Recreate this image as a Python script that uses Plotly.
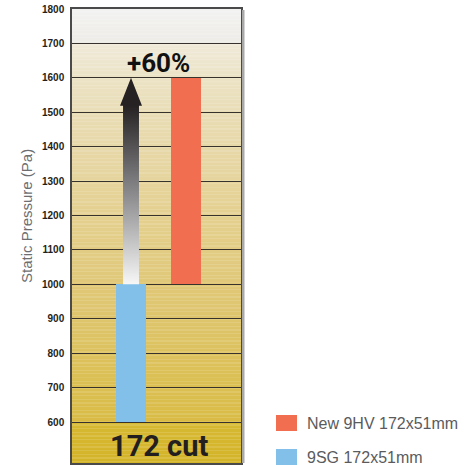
import plotly.graph_objects as go

# ---- data ----
categories = ["9SG 172x51mm", "New 9HV 172x51mm"]
pressure_top = [1000, 1600]
pressure_base = [600, 1000]
bar_colors = ["#82c0ea", "#f26e50"]
increase_label = "+60%"
size_label = "172 cut"
y_ticks = [600, 700, 800, 900, 1000, 1100, 1200, 1300, 1400, 1500, 1600, 1700, 1800]
y_title = "Static Pressure (Pa)"

# ---- layout constants ----
W, H = 473, 465
L, R, T, B = 72, 241, 9, 463          # plot area in pixels
Y_MIN, Y_MAX = 481, 1800
X_MIN, X_MAX = -1.073, 2.0
BAR_W = 0.545

def px_to_paper_x(px):
    return (px - L) / (R - L)

def px_to_paper_y(py):
    return 1 - (py - T) / (B - T)

def hex2rgb(h):
    h = h.lstrip("#")
    return tuple(int(h[i:i + 2], 16) for i in (0, 2, 4))

def lerp_color(stops, v):
    for (v0, c0), (v1, c1) in zip(stops, stops[1:]):
        if v0 <= v <= v1:
            t = (v - v0) / (v1 - v0) if v1 != v0 else 0
            a, b = hex2rgb(c0), hex2rgb(c1)
            return "rgb(%d,%d,%d)" % tuple(round(a[i] + (b[i] - a[i]) * t) for i in range(3))
    return stops[-1][1]

bg_stops = [
    (481, "#d3b328"), (600, "#d7b932"),
    (600.01, "#d9bb45"), (700, "#dbbf52"), (800, "#dcc25e"), (900, "#dec46c"),
    (1000, "#e0c878"), (1100, "#e2cc84"), (1200, "#e4d08f"), (1300, "#e6d49d"),
    (1400, "#e7d8a8"), (1500, "#e9ddb6"), (1600, "#ece3c6"), (1700, "#efe9d8"),
    (1700.01, "#eeece6"), (1800, "#f2f2f1"),
]

shapes = []
step = 4
v = Y_MIN
while v < Y_MAX:
    v1 = min(v + step, Y_MAX)
    shapes.append(dict(type="rect", xref="paper", yref="y", x0=0, x1=1, y0=v, y1=v1 + 0.8,
                       fillcolor=lerp_color(bg_stops, (v + v1) / 2), line=dict(width=0),
                       layer="below"))
    v = v1

# shadow right of the plot frame
shapes.append(dict(type="rect", xref="paper", yref="paper",
                   x0=px_to_paper_x(R + 1), x1=px_to_paper_x(R + 3.5),
                   y0=px_to_paper_y(B), y1=px_to_paper_y(T + 1),
                   fillcolor="#a9a9a9", line=dict(width=0), layer="above"))

fig = go.Figure()

# bars
x_pos = list(range(len(categories)))
for i, name in enumerate(categories):
    fig.add_trace(go.Bar(
        x=[x_pos[i]], y=[pressure_top[i] - pressure_base[i]], base=[pressure_base[i]],
        width=BAR_W, marker=dict(color=bar_colors[i], line=dict(width=0)),
        name=name, showlegend=False,
    ))

# gradient arrow from old value up to new value
shaft_hw = 0.145
head_hw = 0.2
head_len = 81
xc = x_pos[0]
y0, y1 = pressure_top[0], pressure_top[1]
arrow_x = [xc - shaft_hw, xc + shaft_hw, xc + shaft_hw, xc + head_hw, xc, xc - head_hw, xc - shaft_hw, xc - shaft_hw]
arrow_y = [y0, y0, y1 - head_len, y1 - head_len, y1, y1 - head_len, y1 - head_len, y0]
fig.add_trace(go.Scatter(
    x=arrow_x, y=arrow_y, mode="lines", fill="toself", line=dict(width=0),
    fillgradient=dict(type="vertical", start=y0, stop=y1 - head_len,
                      colorscale=[[0, "#f7f7f7"], [0.5, "#8c8c8e"], [1, "#262223"]]),
    hoverinfo="skip", showlegend=False,
))

COND = "Roboto, Liberation Sans Narrow, sans-serif"
annotations = [
    dict(x=0.5, y=1643, xref="x", yref="y", text=increase_label, showarrow=False,
         font=dict(family=COND, size=26, color="#111111", weight="bold")),
    dict(x=0.5, y=530, xref="x", yref="y", text=size_label, showarrow=False,
         font=dict(family=COND, size=29, color="#231f20", weight="bold")),
    dict(x=px_to_paper_x(26), y=px_to_paper_y(216), xref="paper", yref="paper", text=y_title,
         textangle=-90, showarrow=False, xanchor="center", yanchor="middle",
         font=dict(family="Liberation Sans, Arial, sans-serif", size=15, color="#6d6e71")),
]

# manual legend
legend_items = [(categories[1], bar_colors[1], 423), (categories[0], bar_colors[0], 457)]
for name, color, cy in legend_items:
    shapes.append(dict(type="rect", xref="paper", yref="paper",
                       x0=px_to_paper_x(276), x1=px_to_paper_x(297),
                       y0=px_to_paper_y(cy + 8), y1=px_to_paper_y(cy - 8),
                       fillcolor=color, line=dict(width=0), layer="above"))
    annotations.append(dict(x=px_to_paper_x(305), y=px_to_paper_y(cy), xref="paper", yref="paper",
                            text=name, showarrow=False, xanchor="left", yanchor="middle",
                            font=dict(family="Liberation Sans, Arial, sans-serif", size=16, color="#5a5b5d")))

fig.update_layout(
    width=W, height=H,
    margin=dict(l=L, r=W - R, t=T, b=H - B, pad=0),
    paper_bgcolor="white", plot_bgcolor="white",
    bargap=0, barmode="overlay",
    showlegend=False,
    shapes=shapes, annotations=annotations,
    xaxis=dict(range=[X_MIN, X_MAX], showticklabels=False, showgrid=False, zeroline=False,
               showline=True, mirror=True, linecolor="#4a4a4a", linewidth=1.5, ticks="",
               fixedrange=True),
    yaxis=dict(range=[Y_MIN, Y_MAX], tickvals=y_ticks, ticktext=[str(t) for t in y_ticks],
               showgrid=True, gridcolor="#37332c", gridwidth=1.3, zeroline=False,
               showline=True, mirror=True, linecolor="#4a4a4a", linewidth=1.5, ticks="",
               ticklabelstandoff=4,
               tickfont=dict(family="Liberation Sans, Arial, sans-serif", size=10, color="#231f20",
                             weight="bold"),
               fixedrange=True),
)

fig.write_html("out.html", config={"displayModeBar": False},
               post_script="document.body.style.margin='0';document.body.style.overflow='hidden';")
